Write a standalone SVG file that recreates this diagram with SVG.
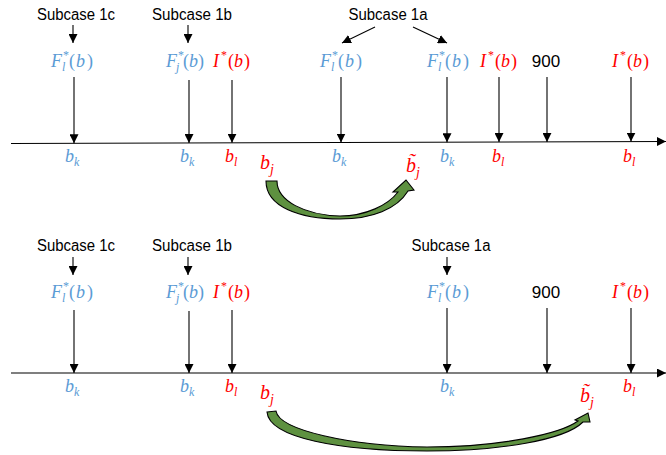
<svg xmlns="http://www.w3.org/2000/svg" width="666" height="455" viewBox="0 0 666 455">
<defs>
<marker id="ah" markerUnits="userSpaceOnUse" markerWidth="9" markerHeight="9" refX="9" refY="4.5" orient="auto">
<path d="M0,0 L9,4.5 L0,9 z" fill="#000"/>
</marker>
</defs>
<style>
.sc{font-family:"Liberation Sans","Open Sans",sans-serif;font-size:16px;fill:#000;text-anchor:middle}
.num{font-family:"Liberation Sans","Open Sans",sans-serif;font-size:17px;fill:#000;text-anchor:middle}
.m{font-family:"Liberation Serif","Times New Roman",serif;font-size:18px}
.mb{font-family:"Liberation Serif","Times New Roman",serif;font-size:20px}
.s{font-size:12px}
.sb{font-size:14px}
.i{font-style:italic}
.blue{fill:#5B9BD5}
.red{fill:#FF0000}
.ln{stroke:#000;stroke-width:1.1;fill:none;marker-end:url(#ah)}
.axis{stroke:#000;stroke-width:1.2;fill:none;marker-end:url(#ah)}
.curve{fill:#5E9140;stroke:#000;stroke-width:1.1;stroke-linejoin:miter}
</style>

<!-- ================= TOP PANEL ================= -->
<g id="top-subcase-1c"><text class="sc" x="76" y="19.5" textLength="78" lengthAdjust="spacingAndGlyphs">Subcase 1c</text></g>
<g id="top-subcase-1b"><text class="sc" x="192" y="19.5" textLength="80" lengthAdjust="spacingAndGlyphs">Subcase 1b</text></g>
<g id="top-subcase-1a"><text class="sc" x="388" y="19.5" textLength="79" lengthAdjust="spacingAndGlyphs">Subcase 1a</text></g>

<g id="top-F1" class="m blue">
<text x="51" y="67" class="i">F</text><text x="63" y="59" class="s">*</text><text x="62" y="71" class="s i">l</text>
<text y="67"><tspan x="69">(</tspan><tspan x="76" class="i">b</tspan><tspan x="87">)</tspan></text>
</g>
<g id="top-Fj" class="m blue">
<text x="166" y="67" class="i">F</text><text x="178" y="59" class="s">*</text><text x="176" y="71" class="s i">j</text>
<text y="67"><tspan x="183">(</tspan><tspan x="189" class="i">b</tspan><tspan x="198">)</tspan></text>
</g>
<g id="top-I1" class="m red">
<text x="213" y="67" class="i">I</text><text x="221" y="59" class="s">*</text>
<text y="67"><tspan x="228">(</tspan><tspan x="234" class="i">b</tspan><tspan x="244">)</tspan></text>
</g>
<g id="top-F2" class="m blue">
<text x="320" y="67" class="i">F</text><text x="332" y="59" class="s">*</text><text x="331" y="71" class="s i">l</text>
<text y="67"><tspan x="338">(</tspan><tspan x="345" class="i">b</tspan><tspan x="356">)</tspan></text>
</g>
<g id="top-F3" class="m blue">
<text x="427" y="67" class="i">F</text><text x="439" y="59" class="s">*</text><text x="438" y="71" class="s i">l</text>
<text y="67"><tspan x="445">(</tspan><tspan x="452" class="i">b</tspan><tspan x="463">)</tspan></text>
</g>
<g id="top-I2" class="m red">
<text x="480" y="67" class="i">I</text><text x="488" y="59" class="s">*</text>
<text y="67"><tspan x="495">(</tspan><tspan x="501" class="i">b</tspan><tspan x="511">)</tspan></text>
</g>
<g id="top-900"><text class="num" x="546" y="67">900</text></g>
<g id="top-I3" class="m red">
<text x="612" y="67" class="i">I</text><text x="620" y="59" class="s">*</text>
<text y="67"><tspan x="627">(</tspan><tspan x="633" class="i">b</tspan><tspan x="643">)</tspan></text>
</g>

<g id="top-bk1" class="m blue"><text x="65" y="162" class="i">b</text><text x="74" y="166" class="s i">k</text></g>
<g id="top-bk2" class="m blue"><text x="180" y="162" class="i">b</text><text x="189" y="166" class="s i">k</text></g>
<g id="top-bl1" class="m red"><text x="225" y="162" class="i">b</text><text x="234" y="166" class="s i">l</text></g>
<g id="top-bj" class="mb red"><text x="260" y="169" class="i">b</text><text x="270" y="174" class="sb i">j</text></g>
<g id="top-btj" class="mb red"><text x="406" y="172" class="i">b&#x303;</text><text x="416" y="177" class="sb i">j</text></g>
<g id="top-bk3" class="m blue"><text x="332" y="162" class="i">b</text><text x="341" y="166" class="s i">k</text></g>
<g id="top-bk4" class="m blue"><text x="440" y="162" class="i">b</text><text x="449" y="166" class="s i">k</text></g>
<g id="top-bl2" class="m red"><text x="492" y="162" class="i">b</text><text x="501" y="166" class="s i">l</text></g>
<g id="top-bl3" class="m red"><text x="623" y="162" class="i">b</text><text x="632" y="166" class="s i">l</text></g>

<!-- ================= BOTTOM PANEL ================= -->
<g id="bot-subcase-1c"><text class="sc" x="76" y="250.5" textLength="78" lengthAdjust="spacingAndGlyphs">Subcase 1c</text></g>
<g id="bot-subcase-1b"><text class="sc" x="192" y="250.5" textLength="80" lengthAdjust="spacingAndGlyphs">Subcase 1b</text></g>
<g id="bot-subcase-1a"><text class="sc" x="451" y="250.5" textLength="79" lengthAdjust="spacingAndGlyphs">Subcase 1a</text></g>

<g id="bot-F1" class="m blue">
<text x="51" y="298" class="i">F</text><text x="63" y="290" class="s">*</text><text x="62" y="302" class="s i">l</text>
<text y="298"><tspan x="69">(</tspan><tspan x="76" class="i">b</tspan><tspan x="87">)</tspan></text>
</g>
<g id="bot-Fj" class="m blue">
<text x="166" y="298" class="i">F</text><text x="178" y="290" class="s">*</text><text x="176" y="302" class="s i">j</text>
<text y="298"><tspan x="183">(</tspan><tspan x="189" class="i">b</tspan><tspan x="198">)</tspan></text>
</g>
<g id="bot-I1" class="m red">
<text x="213" y="298" class="i">I</text><text x="221" y="290" class="s">*</text>
<text y="298"><tspan x="228">(</tspan><tspan x="234" class="i">b</tspan><tspan x="244">)</tspan></text>
</g>
<g id="bot-F3" class="m blue">
<text x="427" y="298" class="i">F</text><text x="439" y="290" class="s">*</text><text x="438" y="302" class="s i">l</text>
<text y="298"><tspan x="445">(</tspan><tspan x="452" class="i">b</tspan><tspan x="463">)</tspan></text>
</g>
<g id="bot-900"><text class="num" x="546" y="298">900</text></g>
<g id="bot-I3" class="m red">
<text x="612" y="298" class="i">I</text><text x="620" y="290" class="s">*</text>
<text y="298"><tspan x="627">(</tspan><tspan x="633" class="i">b</tspan><tspan x="643">)</tspan></text>
</g>

<g id="bot-bk1" class="m blue"><text x="65" y="392" class="i">b</text><text x="74" y="396" class="s i">k</text></g>
<g id="bot-bk2" class="m blue"><text x="180" y="392" class="i">b</text><text x="189" y="396" class="s i">k</text></g>
<g id="bot-bl1" class="m red"><text x="225" y="392" class="i">b</text><text x="234" y="396" class="s i">l</text></g>
<g id="bot-bj" class="mb red"><text x="260" y="399" class="i">b</text><text x="270" y="404" class="sb i">j</text></g>
<g id="bot-bk4" class="m blue"><text x="440" y="392" class="i">b</text><text x="449" y="396" class="s i">k</text></g>
<g id="bot-btj" class="mb red"><text x="580" y="402" class="i">b&#x303;</text><text x="590" y="407" class="sb i">j</text></g>
<g id="bot-bl3" class="m red"><text x="623" y="392" class="i">b</text><text x="632" y="396" class="s i">l</text></g>

<!-- ================= CONNECTORS ================= -->
<g id="connectors">
<!-- top axis -->
<line class="axis" x1="11" y1="143.5" x2="666" y2="141.5"/>
<!-- top subcase arrows -->
<line class="ln" x1="73" y1="25" x2="73" y2="43"/>
<line class="ln" x1="188" y1="25" x2="188" y2="43"/>
<line class="ln" x1="375" y1="27" x2="342" y2="43"/>
<line class="ln" x1="413" y1="27" x2="447" y2="43"/>
<!-- top vertical arrows -->
<line class="ln" x1="74" y1="77" x2="74" y2="143.3"/>
<line class="ln" x1="189" y1="80" x2="189" y2="143"/>
<line class="ln" x1="232" y1="80" x2="232" y2="142.8"/>
<line class="ln" x1="341" y1="77" x2="341" y2="142.5"/>
<line class="ln" x1="447" y1="77" x2="447" y2="142.2"/>
<line class="ln" x1="499" y1="77" x2="499" y2="142"/>
<line class="ln" x1="547" y1="77" x2="547" y2="141.9"/>
<line class="ln" x1="631" y1="77" x2="631" y2="141.6"/>
<!-- top curved arrow -->
<path class="curve" d="M266,181 L277,181 C277,201 305,215 340,216 C366,216 388,205 398,192 L393,192 L406,180 L414,190 L408,191 C397,209 372,219 340,219 C300,219 266,207 266,181 Z"/>

<!-- bottom axis -->
<line class="axis" x1="11" y1="373" x2="666" y2="373"/>
<!-- bottom subcase arrows -->
<line class="ln" x1="73" y1="257" x2="73" y2="275"/>
<line class="ln" x1="188" y1="257" x2="188" y2="275"/>
<line class="ln" x1="447" y1="257" x2="447" y2="275"/>
<!-- bottom vertical arrows -->
<line class="ln" x1="74" y1="310" x2="74" y2="373"/>
<line class="ln" x1="189" y1="311" x2="189" y2="373"/>
<line class="ln" x1="232" y1="310" x2="232" y2="373"/>
<line class="ln" x1="447" y1="308" x2="447" y2="373"/>
<line class="ln" x1="547" y1="308" x2="547" y2="373"/>
<line class="ln" x1="631" y1="308" x2="631" y2="373"/>
<!-- bottom curved arrow -->
<path class="curve" d="M267,412 L276,411 C279,430 350,446 427,447 C500,447 560,434 578,421 L575,420 L588,413 L590,422 L583,422 C565,440 500,451 427,451 C340,451 269,438 267,412 Z"/>
</g>
</svg>
